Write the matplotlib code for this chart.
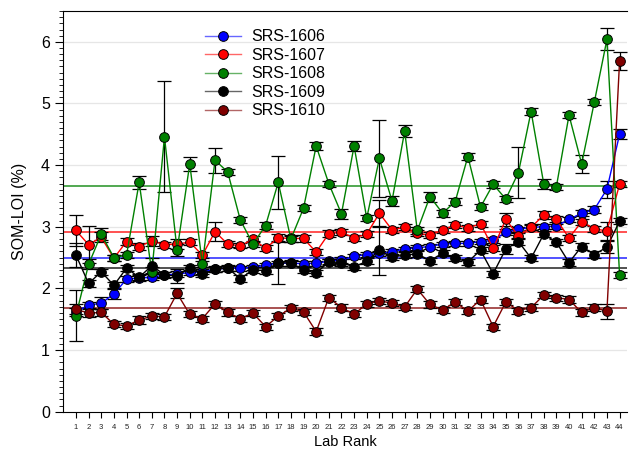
import matplotlib
matplotlib.use("Agg")
import matplotlib.pyplot as plt
from matplotlib.colors import to_rgba
from matplotlib.ticker import MultipleLocator

plt.rcParams["font.family"] = ["Liberation Sans", "DejaVu Sans"]

ranks = list(range(1, 45))
names = ["SRS-1606", "SRS-1607", "SRS-1608", "SRS-1609", "SRS-1610"]
colors = ["#0000ff", "#ff0000", "#008000", "#000000", "#800000"]

srs_1606 = [1.62, 1.73, 1.76, 1.91, 2.15, 2.17, 2.18, 2.22, 2.23, 2.26, 2.27,
            2.31, 2.33, 2.33, 2.34, 2.38, 2.41, 2.41, 2.40, 2.41, 2.44, 2.46,
            2.52, 2.55, 2.57, 2.59, 2.64, 2.66, 2.68, 2.72, 2.73, 2.73, 2.76,
            2.78, 2.91, 2.96, 2.99, 3.00, 3.01, 3.12, 3.22, 3.28, 3.61, 4.50]
srs_1607 = [2.94, 2.71, 2.83, 2.49, 2.76, 2.68, 2.77, 2.71, 2.72, 2.75, 2.54,
            2.92, 2.72, 2.69, 2.80, 2.65, 2.82, 2.81, 2.81, 2.59, 2.89, 2.91,
            2.82, 2.88, 3.22, 2.95, 2.99, 2.90, 2.86, 2.95, 3.03, 2.98, 3.05,
            2.65, 3.12, 2.85, 2.99, 3.19, 3.12, 2.82, 3.08, 2.97, 2.93, 3.69]
srs_1608 = [1.56, 2.39, 2.88, 2.50, 2.54, 3.72, 2.26, 4.46, 2.62, 4.02, 2.39,
            4.08, 3.89, 3.11, 2.72, 3.02, 3.72, 2.80, 3.30, 4.31, 3.70, 3.21,
            4.31, 3.14, 4.11, 3.42, 4.55, 2.94, 3.49, 3.22, 3.41, 4.14, 3.32,
            3.69, 3.45, 3.88, 4.87, 3.70, 3.65, 4.81, 4.02, 5.02, 6.04, 2.22]
srs_1609 = [2.54, 2.08, 2.27, 2.05, 2.33, 2.18, 2.37, 2.22, 2.20, 2.33, 2.23,
            2.31, 2.33, 2.16, 2.30, 2.29, 2.42, 2.41, 2.30, 2.25, 2.43, 2.42,
            2.35, 2.44, 2.62, 2.51, 2.54, 2.56, 2.45, 2.57, 2.49, 2.43, 2.62,
            2.24, 2.64, 2.76, 2.49, 2.88, 2.75, 2.42, 2.68, 2.55, 2.67, 3.09]
srs_1610 = [1.66, 1.60, 1.61, 1.42, 1.39, 1.49, 1.55, 1.54, 1.92, 1.58, 1.51,
            1.75, 1.61, 1.51, 1.60, 1.38, 1.55, 1.68, 1.62, 1.30, 1.85, 1.69,
            1.58, 1.75, 1.80, 1.76, 1.70, 1.99, 1.74, 1.65, 1.78, 1.63, 1.82,
            1.38, 1.78, 1.64, 1.69, 1.89, 1.85, 1.82, 1.61, 1.69, 1.63, 5.69]

# standard deviations (error bars)
err_1606 = [0.06, 0.05, 0.10, 0.08, 0.05, 0.05, 0.05, 0.04, 0.05, 0.04, 0.04,
            0.04, 0.04, 0.04, 0.04, 0.04, 0.04, 0.04, 0.04, 0.04, 0.04, 0.05,
            0.04, 0.04, 0.04, 0.05, 0.04, 0.04, 0.04, 0.04, 0.04, 0.04, 0.04,
            0.05, 0.05, 0.04, 0.04, 0.04, 0.04, 0.04, 0.05, 0.05, 0.14, 0.08]
err_1607 = [0.25, 0.30, 0.08, 0.05, 0.05, 0.05, 0.08, 0.05, 0.08, 0.05, 0.05,
            0.15, 0.05, 0.04, 0.05, 0.05, 0.06, 0.05, 0.05, 0.05, 0.06, 0.05,
            0.05, 0.05, 0.22, 0.05, 0.05, 0.05, 0.05, 0.05, 0.05, 0.05, 0.05,
            0.05, 0.10, 0.05, 0.05, 0.06, 0.05, 0.05, 0.05, 0.05, 0.15, 0.05]
err_1608 = [0.42, 0.08, 0.10, 0.05, 0.05, 0.10, 0.08, 0.90, 0.10, 0.12, 0.05,
            0.20, 0.05, 0.05, 0.05, 0.05, 0.43, 0.05, 0.05, 0.06, 0.05, 0.08,
            0.08, 0.05, 0.62, 0.08, 0.10, 0.05, 0.08, 0.06, 0.05, 0.06, 0.05,
            0.06, 0.05, 0.42, 0.05, 0.08, 0.05, 0.05, 0.15, 0.05, 0.18, 0.05]
err_1609 = [0.20, 0.05, 0.05, 0.05, 0.05, 0.05, 0.12, 0.05, 0.12, 0.05, 0.05,
            0.05, 0.05, 0.05, 0.05, 0.05, 0.35, 0.05, 0.05, 0.05, 0.05, 0.05,
            0.05, 0.05, 0.40, 0.05, 0.05, 0.05, 0.05, 0.05, 0.05, 0.05, 0.05,
            0.05, 0.08, 0.05, 0.05, 0.05, 0.05, 0.05, 0.05, 0.05, 0.10, 0.05]
err_1610 = [0.08, 0.06, 0.05, 0.05, 0.05, 0.06, 0.05, 0.05, 0.08, 0.05, 0.05,
            0.05, 0.05, 0.05, 0.05, 0.05, 0.05, 0.05, 0.05, 0.05, 0.05, 0.05,
            0.05, 0.05, 0.05, 0.05, 0.05, 0.05, 0.05, 0.05, 0.05, 0.05, 0.05,
            0.05, 0.05, 0.05, 0.05, 0.05, 0.05, 0.05, 0.05, 0.05, 0.12, 0.14]

# consensus values (horizontal lines)
consensus = [2.50, 2.92, 3.665, 2.335, 1.687]

series = [srs_1606, srs_1607, srs_1608, srs_1609, srs_1610]
errors = [err_1606, err_1607, err_1608, err_1609, err_1610]


def main():
    fig = plt.figure(figsize=(6.3, 4.59), dpi=100)
    ax = fig.add_axes([0.1005, 0.103, 0.895, 0.873])

    for y in range(1, 7):
        ax.axhline(y, color="#e6e6e6", lw=0.9, zorder=0)

    for col, cval in zip(colors, consensus):
        ax.axhline(cval, color=col, lw=1.2, alpha=0.8, zorder=1)

    for vals, errs, col, name in zip(series, errors, colors, names):
        ax.errorbar(ranks, vals, yerr=errs, fmt="none", ecolor="black",
                    elinewidth=0.9, capsize=5, capthick=0.9, zorder=2)
        ax.plot(ranks, vals, "-o", color=col, lw=1.0, markersize=7,
                markeredgecolor="black", markeredgewidth=0.7,
                label=name, zorder=3)

    ax.set_xlim(0, 44.6)
    ax.set_ylim(0, 6.5)
    ax.set_xticks(ranks)
    ax.set_xticklabels([str(r) for r in ranks], fontsize=5.5, color="#222222")
    ax.yaxis.set_major_locator(MultipleLocator(1))
    ax.yaxis.set_minor_locator(MultipleLocator(0.1))
    ax.tick_params(axis="y", which="major", direction="out", length=6,
                   labelsize=11.5)
    ax.tick_params(axis="y", which="minor", direction="out", length=3)
    ax.tick_params(axis="x", direction="out", length=4, pad=5)
    ax.spines["right"].set_visible(False)

    ax.set_xlabel("Lab Rank", fontsize=10.5, labelpad=3)
    ax.set_ylabel("SOM-LOI (%)", fontsize=11.5, labelpad=10)

    leg = ax.legend(loc="upper left", bbox_to_anchor=(0.225, 0.99),
                    frameon=False, fontsize=11.5, handlelength=2.3,
                    labelspacing=0.22, handletextpad=0.6)
    for line, col in zip(leg.get_lines(), colors):
        line.set_color(to_rgba(col, 0.6))
        line.set_markerfacecolor(col)
        line.set_markeredgecolor("black")

    fig.savefig("out.png", dpi=100)
    plt.close(fig)


if __name__ == "__main__":
    main()
